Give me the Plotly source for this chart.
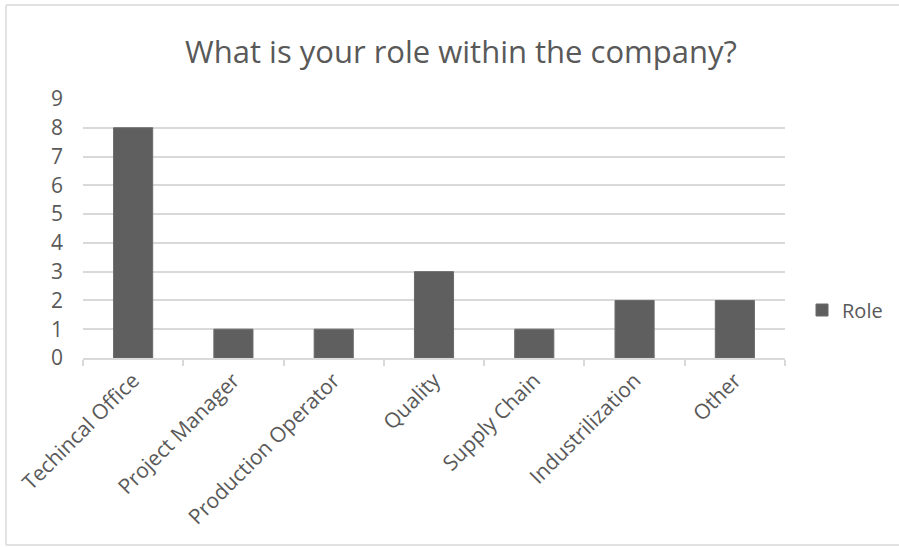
import plotly.graph_objects as go

categories = ["Techincal Office", "Project Manager", "Production Operator", "Quality",
              "Supply Chain", "Industrilization", "Other"]
values = [8, 1, 1, 3, 1, 2, 2]
series_name = "Role"
title_text = "What is your role within the company?"
y_ticks = list(range(0, 10))

W, H = 899, 547
L, R = 83, 785
T, B = 99, 358

fig = go.Figure()
fig.add_trace(go.Bar(x=categories, y=values, name=series_name,
                     marker=dict(color="#5f5f5f", line=dict(color="#6a6a6a", width=1)),
                     showlegend=True))

def px_to_paper_x(px):
    return (px - L) / (R - L)

def px_to_paper_y(py):
    return (B - py) / (B - T)

border = dict(color="#d9d9d9", width=1.5)
xl, xr = px_to_paper_x(6), px_to_paper_x(930)
yb, yt = px_to_paper_y(545), px_to_paper_y(5)
for x0, y0, x1, y1 in [(xl, yt, xr, yt), (xl, yb, xr, yb), (xl, yb, xl, yt)]:
    fig.add_shape(type="line", xref="paper", yref="paper", x0=x0, y0=y0, x1=x1, y1=y1,
                  line=border, layer="below")

fig.update_layout(
    width=W, height=H,
    margin=dict(l=L, r=W - R, t=T, b=H - B, autoexpand=False),
    paper_bgcolor="white", plot_bgcolor="white",
    font=dict(family="Open Sans", color="#595959", size=21),
    title=dict(text=title_text, x=461 / W, xref="container", xanchor="center",
               y=1 - 52 / H, yref="container", yanchor="middle",
               font=dict(family="Open Sans", size=31, color="#595959")),
    bargap=0.61,
    showlegend=True,
    legend=dict(x=px_to_paper_x(802), xanchor="left", y=px_to_paper_y(310), yanchor="middle",
                font=dict(size=20, color="#595959"), bgcolor="rgba(0,0,0,0)"),
)
fig.update_xaxes(type="category", tickangle=-45, showgrid=False, automargin=False,
                 showline=True, linecolor="#d9d9d9", linewidth=1.5,
                 ticks="outside", tickson="boundaries", ticklen=6, tickcolor="#d9d9d9", tickwidth=1.5,
                 tickfont=dict(size=21, color="#595959"))
fig.update_yaxes(range=[0, 9], tickvals=y_ticks, showgrid=True, gridcolor="#d9d9d9", gridwidth=1.5,
                 zeroline=False, showline=False, ticks="", ticklabelstandoff=19, automargin=False,
                 tickfont=dict(size=21, color="#595959"))

fig.write_html("out.html")
